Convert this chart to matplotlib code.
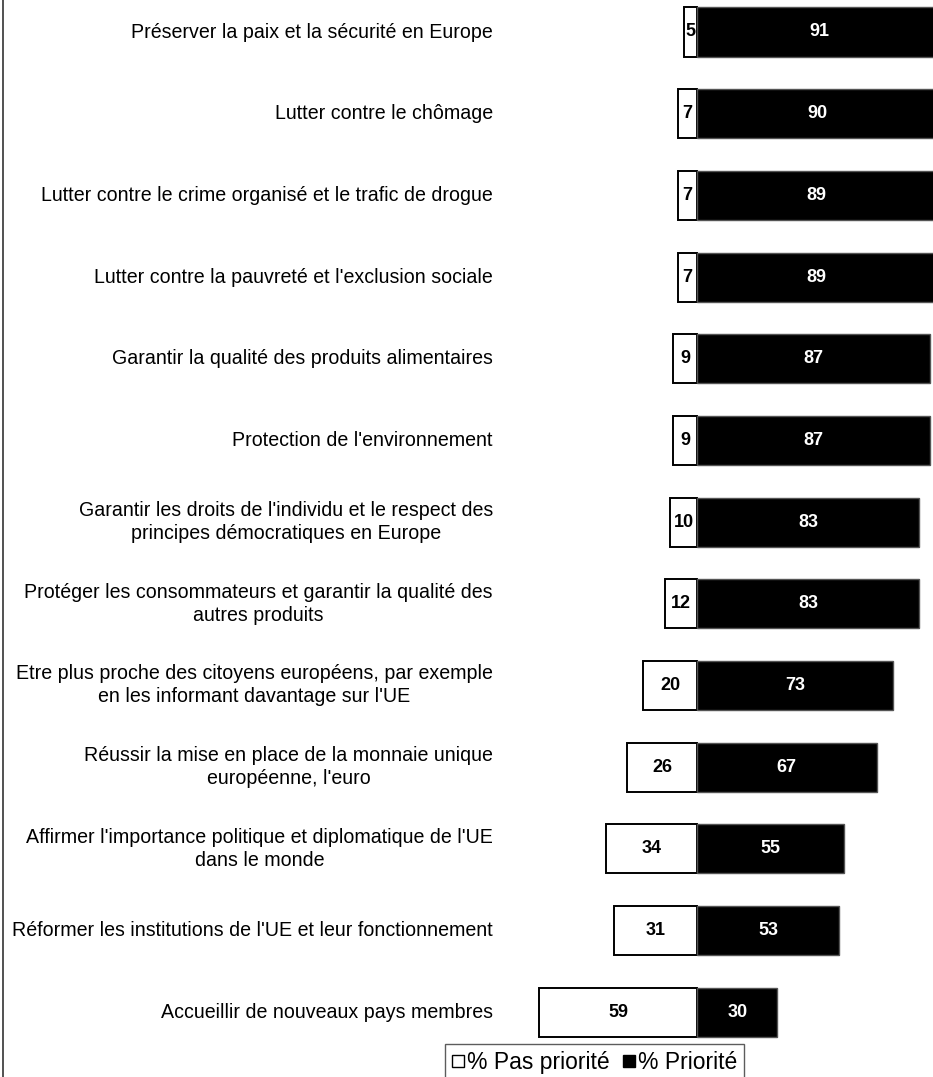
import matplotlib
matplotlib.use("Agg")
import matplotlib.pyplot as plt
from matplotlib.lines import Line2D

plt.rcParams['font.family'] = ['Liberation Sans', 'DejaVu Sans']

categories = [
    "Préserver la paix et la sécurité en Europe",
    "Lutter contre le chômage",
    "Lutter contre le crime organisé et le trafic de drogue",
    "Lutter contre la pauvreté et l'exclusion sociale",
    "Garantir la qualité des produits alimentaires",
    "Protection de l'environnement",
    "Garantir les droits de l'individu et le respect des\nprincipes démocratiques en Europe",
    "Protéger les consommateurs et garantir la qualité des\nautres produits",
    "Etre plus proche des citoyens européens, par exemple\nen les informant davantage sur l'UE",
    "Réussir la mise en place de la monnaie unique\neuropéenne, l'euro",
    "Affirmer l'importance politique et diplomatique de l'UE\ndans le monde",
    "Réformer les institutions de l'UE et leur fonctionnement",
    "Accueillir de nouveaux pays membres",
]
pas_priorite = [5, 7, 7, 7, 9, 9, 10, 12, 20, 26, 34, 31, 59]
priorite = [91, 90, 89, 89, 87, 87, 83, 83, 73, 67, 55, 53, 30]
legend_labels = ["% Pas priorité", "% Priorité"]

W, H = 933, 1077
fig = plt.figure(figsize=(W / 100, H / 100), dpi=100)
ax = fig.add_axes([0, 0, 1, 1])

# pixel layout of the value axis and rows
zero_px, px_per_unit = 697, 2.68
row0_px, row_step = 32, 81.67
ax.set_xlim(-zero_px / px_per_unit, (W - zero_px) / px_per_unit)
ax.set_ylim((H - row0_px) / row_step, -row0_px / row_step)
ax.axis("off")

ypos = list(range(len(categories)))
ax.barh(ypos, [-v for v in pas_priorite], height=0.6, color="white",
        edgecolor="black", linewidth=1.4, zorder=2)
ax.barh(ypos, priorite, height=0.6, color="black",
        edgecolor="#555555", linewidth=1.0, zorder=2)

for y, neg, pos, lab in zip(ypos, pas_priorite, priorite, categories):
    ax.text(-neg / 2, y, str(neg), ha="center", va="center",
            fontsize=13, fontweight="bold", color="black", zorder=3)
    ax.text(pos / 2, y, str(pos), ha="center", va="center",
            fontsize=13, fontweight="bold", color="white", zorder=3)
    ax.text((493 - zero_px) / px_per_unit, y, lab, ha="right", va="center",
            multialignment="center", fontsize=14.1, color="black",
            linespacing=1.28)

# thin frame line on the left edge
fig.add_artist(Line2D([2.5 / W, 2.5 / W], [0, 1], color="#333333",
                      linewidth=1.2, transform=fig.transFigure))

handles = [
    Line2D([], [], marker="s", linestyle="none", markersize=8,
           markerfacecolor="white", markeredgecolor="black", markeredgewidth=1.0),
    Line2D([], [], marker="s", linestyle="none", markersize=8,
           markerfacecolor="black", markeredgecolor="black"),
]
leg = fig.legend(handles, legend_labels, loc="upper left",
                 bbox_to_anchor=(445 / W, 1 - 1044 / H), ncol=2,
                 fontsize=16.5, frameon=True, fancybox=False,
                 borderaxespad=0, handlelength=0.5, handletextpad=0.15,
                 columnspacing=0.6, borderpad=0.3)
leg.get_frame().set_edgecolor("#333333")
leg.get_frame().set_linewidth(1.0)

fig.savefig("out.png", dpi=100)
